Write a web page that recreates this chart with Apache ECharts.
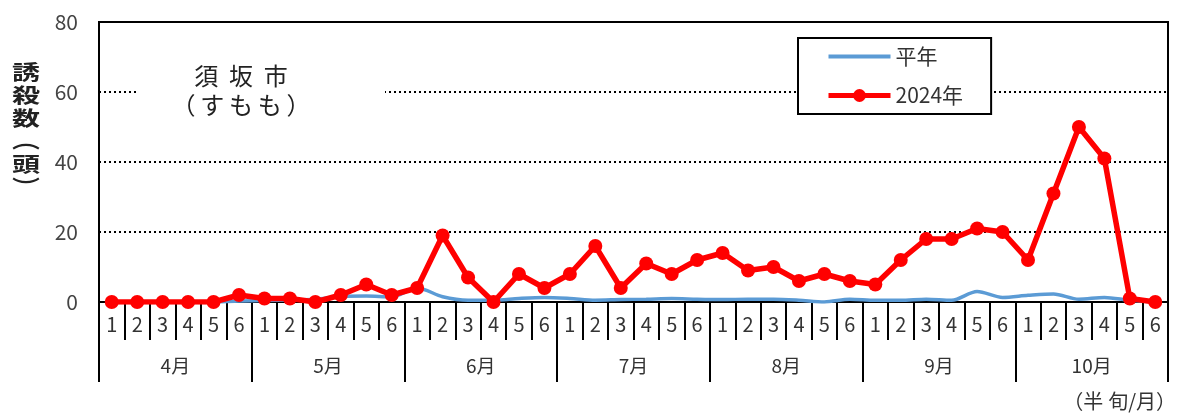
<!DOCTYPE html>
<html><head><meta charset="utf-8">
<script src="https://cdn.jsdelivr.net/npm/echarts@6/dist/echarts.min.js"></script>
<style>html,body{margin:0;padding:0;background:#fff}#c{width:1182px;height:417px}</style>
</head><body><div id="c"></div>
<script>
const halfLabels = ['1','2','3','4','5','6','1','2','3','4','5','6','1','2','3','4','5','6','1','2','3','4','5','6','1','2','3','4','5','6','1','2','3','4','5','6','1','2','3','4','5','6'];
const months = ['4月','5月','6月','7月','8月','9月','10月'];
const normalYear = [0,0,0,0,0,0.3, 0.4,0.6,0.8,1.6,1.7,1.5, 4,1.5,0.5,0.5,1,1.3, 1,0.5,0.7,0.8,1,0.8, 0.7,0.8,0.8,0.5,0,0.8, 0.5,0.5,0.8,0.5,3,1.3, 1.9,2.3,0.8,1.3,0.5,0];
const year2024 = [0,0,0,0,0,2, 1,1,0,2,5,2, 4,19,7,0,8,4, 8,16,4,11,8,12, 14,9,10,6,8,6, 5,12,18,18,21,20, 12,31,50,41,1,0];
const yTicks = [0,20,40,60,80];
const seriesNames = ['平年','2024年'];
const titleText = '須\u2005\u2009坂\u2005\u2009市\n（\u2009す\u2009も\u2009も\u2009）';

const FONT = '"Noto Sans CJK JP","Noto Sans",sans-serif';
const chart = echarts.init(document.getElementById('c'));
chart.setOption({
  animation: false,
  textStyle: {fontFamily: FONT},
  grid: {left: 99, right: 14, top: 22, bottom: 115, show: true, borderColor: '#000', borderWidth: 2, backgroundColor: 'transparent'},
  legend: {
    data: [
      {name: seriesNames[0], itemStyle: {opacity: 0}, lineStyle: {width: 4}},
      {name: seriesNames[1], lineStyle: {width: 5}}
    ],
    orient: 'vertical', left: 798, top: 38,
    backgroundColor: '#fff', borderColor: '#000', borderWidth: 2,
    padding: [8, 28, 8, 28], itemGap: 18, itemWidth: 62, itemHeight: 16,
    textStyle: {fontFamily: FONT, fontSize: 21, color: '#333'}
  },
  xAxis: [
    {type: 'category', data: halfLabels, boundaryGap: true, position: 'bottom',
     axisLine: {show: true, lineStyle: {color: '#000', width: 2}},
     axisTick: {show: true, length: 38, interval: 0, lineStyle: {color: '#000', width: 2}},
     axisLabel: {interval: 0, margin: 12, fontSize: 20, color: '#333', fontFamily: FONT},
     splitLine: {show: false}},
    {type: 'category', data: months, boundaryGap: true, position: 'bottom', offset: 0,
     axisLine: {show: true, lineStyle: {color: '#000', width: 2}},
     axisTick: {show: true, length: 80, interval: 0, lineStyle: {color: '#000', width: 2}},
     axisLabel: {interval: 0, margin: 54, fontSize: 19, color: '#333', fontFamily: FONT},
     splitLine: {show: false}}
  ],
  yAxis: {
    type: 'value', min: 0, max: 80, interval: 20,
    axisLine: {show: true, lineStyle: {color: '#000', width: 2}},
    axisTick: {show: false},
    axisLabel: {margin: 21, fontSize: 21, color: '#444', fontFamily: FONT,
      formatter: v => yTicks.includes(v) ? String(v) : ''},
    splitLine: {show: true, lineStyle: {color: '#000', width: 2, type: [2, 3]}}
  },
  graphic: [
    {type: 'rect', shape: {x: 137, y: 58, width: 248, height: 60}, style: {fill: '#fff'}, z: 10},
    {type: 'text', x: 241, y: 61, z: 11, style: {text: titleText, font: '24px ' + FONT, fill: '#222', lineHeight: 29, align: 'center', verticalAlign: 'top'}},
    {type: 'text', x: 12, y: 61, scaleY: 0.74, z: 11, style: {text: '誘\n殺\n数', font: 'bold 28px ' + FONT, fill: '#222', lineHeight: 31, verticalAlign: 'top'}},
    {type: 'text', x: 12, y: 164, scaleY: 0.74, z: 11, style: {text: '頭', font: 'bold 28px ' + FONT, fill: '#222', verticalAlign: 'middle'}},
    {type: 'text', x: 12, y: 140, scaleY: 0.74, z: 11, style: {text: '︵', font: 'bold 28px ' + FONT, fill: '#222', verticalAlign: 'middle'}},
    {type: 'text', x: 12, y: 187, scaleY: 0.74, z: 11, style: {text: '︶', font: 'bold 28px ' + FONT, fill: '#222', verticalAlign: 'middle'}},
    {type: 'text', right: 6, top: 391, style: {text: '（半\u2005旬/月）', font: '20px ' + FONT, fill: '#333'}}
  ],
  series: [
    {name: seriesNames[0], type: 'line', data: normalYear, xAxisIndex: 0, smooth: 0.3,
     symbol: 'none', showSymbol: false, lineStyle: {color: '#5B9BD5', width: 3.5}, itemStyle: {color: '#5B9BD5'}, z: 2},
    {name: seriesNames[1], type: 'line', data: year2024, xAxisIndex: 0,
     symbol: 'circle', symbolSize: 14, lineStyle: {color: '#FF0000', width: 5.5}, itemStyle: {color: '#FF0000'}, z: 3}
  ]
});
</script></body></html>
